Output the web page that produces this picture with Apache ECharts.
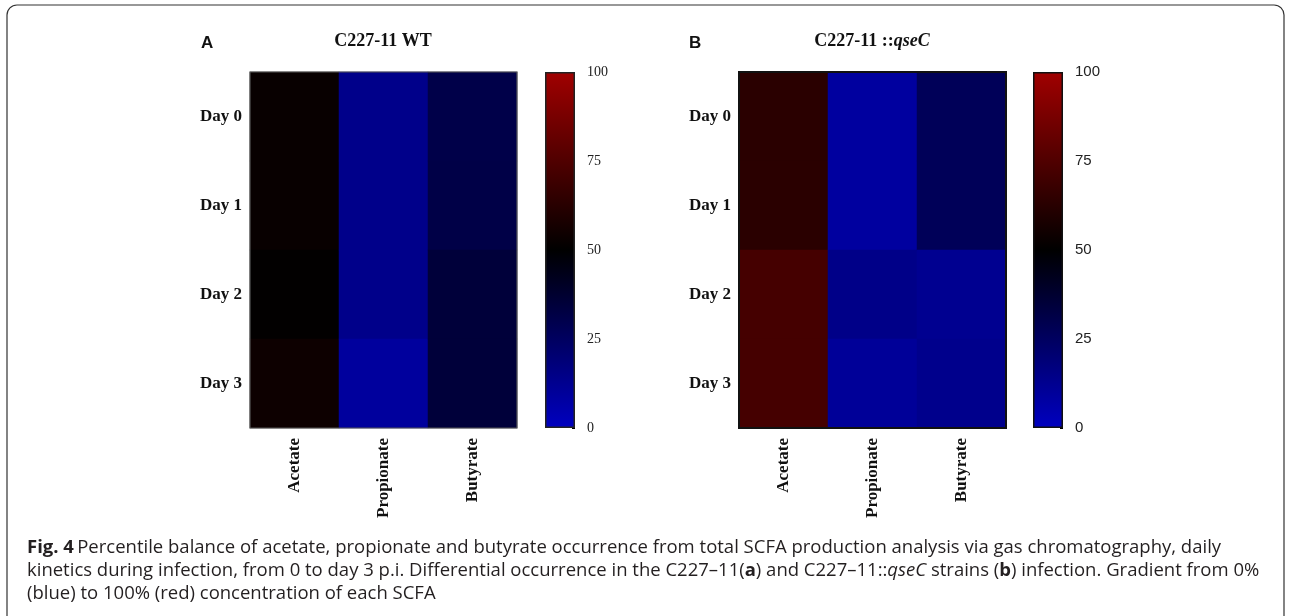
<!DOCTYPE html>
<html><head><meta charset="utf-8">
<script src="https://cdn.jsdelivr.net/npm/echarts@6/dist/echarts.min.js"></script>
<style>html,body{margin:0;padding:0;background:#fff}#c{width:1290px;height:616px}</style>
</head><body><div id="c"></div>
<script>
const days = ['Day 0', 'Day 1', 'Day 2', 'Day 3'];
const acids = ['Acetate', 'Propionate', 'Butyrate'];
const colorbarTicks = [0, 25, 50, 75, 100];
// values (percentile, 0-100) per acid, indexed by day
const wtAcetate = [52.5, 52.5, 50.5, 54];
const wtPropionate = [14, 14, 14, 9];
const wtButyrate = [31, 31.5, 35, 35];
const qsAcetate = [63, 63, 71.5, 71.5];
const qsPropionate = [8.5, 8.5, 14.5, 10.5];
const qsButyrate = [27, 27, 12.5, 13.5];

function cells(cols) {
  const out = [];
  cols.forEach((col, x) => col.forEach((v, y) => out.push([x, y, v])));
  return out;
}
const wtData = cells([wtAcetate, wtPropionate, wtButyrate]);
const qsData = cells([qsAcetate, qsPropionate, qsButyrate]);

const cmap = ['#0000c0', '#000000', '#a00000'];
const serif = '"Liberation Serif", "DejaVu Serif", serif';
const sans = '"Liberation Sans", Arial, sans-serif';

const chart = echarts.init(document.getElementById('c'), null, {renderer: 'canvas'});

function heatGrid(left) { return {left: left, top: 72, width: 267, height: 356, show: false}; }
function barGrid(left) { return {left: left, top: 72, width: 30, height: 356, show: false}; }

const grad = new echarts.graphic.LinearGradient(0, 0, 0, 1, [
  {offset: 0, color: cmap[2]}, {offset: 0.5, color: cmap[1]}, {offset: 1, color: cmap[0]}
]);

function heatX(gi) {
  return {type: 'category', gridIndex: gi, data: acids, position: 'bottom',
    axisLine: {show: false}, axisTick: {show: false}, splitLine: {show: false},
    axisLabel: {rotate: 90, margin: 10, fontFamily: serif, fontWeight: 'bold', fontSize: 17, color: '#111'}};
}
function heatY(gi) {
  return {type: 'category', gridIndex: gi, data: days, inverse: true,
    axisLine: {show: false}, axisTick: {show: false}, splitLine: {show: false},
    axisLabel: {margin: 8, fontFamily: serif, fontWeight: 'bold', fontSize: 17, color: '#111'}};
}
function barX(gi) {
  return {type: 'category', gridIndex: gi, data: ['c'], show: false};
}
function barY(gi, font, size) {
  return {type: 'value', gridIndex: gi, min: 0, max: 100, interval: 25, position: 'right',
    axisLine: {show: false}, splitLine: {show: false},
    axisTick: {show: true, inside: true, length: 3, lineStyle: {color: '#000', width: 1}},
    axisLabel: {margin: 12, fontFamily: font, fontSize: size, color: '#222',
      formatter: v => colorbarTicks.includes(v) ? String(v) : ''}};
}

const capFont = '"Open Sans", sans-serif';
const capSize = 18.5;
const capLH = 23;

const option = {
  animation: false,
  backgroundColor: '#fff',
  grid: [heatGrid(250), barGrid(545), heatGrid(739), barGrid(1033)],
  xAxis: [heatX(0), barX(1), heatX(2), barX(3)],
  yAxis: [heatY(0), barY(1, serif, 14), heatY(2), barY(3, sans, 15)],
  visualMap: [{type: 'continuous', min: 0, max: 100, show: false, seriesIndex: [0, 2],
    inRange: {color: cmap}}],
  series: [
    {type: 'heatmap', xAxisIndex: 0, yAxisIndex: 0, data: wtData, itemStyle: {borderWidth: 0}},
    {type: 'bar', xAxisIndex: 1, yAxisIndex: 1, data: [100], barWidth: '100%',
      itemStyle: {color: grad, borderColor: '#222', borderWidth: 1.5}, silent: true},
    {type: 'heatmap', xAxisIndex: 2, yAxisIndex: 2, data: qsData, itemStyle: {borderWidth: 0}},
    {type: 'bar', xAxisIndex: 3, yAxisIndex: 3, data: [100], barWidth: '100%',
      itemStyle: {color: grad, borderColor: '#111', borderWidth: 1.5}, silent: true}
  ],
  graphic: [
    {type: 'rect', shape: {x: 7, y: 5, width: 1277, height: 700, r: 10}, silent: true,
      style: {fill: 'none', stroke: '#333', lineWidth: 1.2}},
    {type: 'rect', shape: {x: 250, y: 72, width: 267, height: 356}, silent: true, z: 10,
      style: {fill: 'none', stroke: '#555', lineWidth: 1.2}},
    {type: 'rect', shape: {x: 739, y: 72, width: 267, height: 356}, silent: true, z: 10,
      style: {fill: 'none', stroke: '#111', lineWidth: 2}},
    {type: 'text', left: 201, top: 35, style: {text: 'A', font: 'bold 17px ' + sans, fill: '#111'}},
    {type: 'text', left: 689, top: 35, style: {text: 'B', font: 'bold 17px ' + sans, fill: '#111'}},
    {type: 'text', x: 383, y: 41, style: {text: 'C227-11 WT', font: 'bold 18px ' + serif, fill: '#111',
      textAlign: 'center', textVerticalAlign: 'middle'}},
    {type: 'text', x: 872, y: 41, style: {
      text: '{n|C227-11 ::}{i|qseC}', textAlign: 'center', textVerticalAlign: 'middle',
      rich: {n: {font: 'bold 18px ' + serif, fill: '#111'}, i: {font: 'italic bold 18px ' + serif, fill: '#111'}}}},
    {type: 'text', left: 27, top: 538, style: {
      text: '{b|Fig. 4} {r|Percentile balance of acetate, propionate and butyrate occurrence from total SCFA production analysis via gas chromatography, daily}\n' +
            '{r|kinetics during infection, from 0 to day 3 p.i. Differential occurrence in the C227\u201311(}{b|a}{r|) and C227\u201311::}{i|qseC}{r| strains (}{b|b}{r|) infection. Gradient from 0%}\n' +
            '{r|(blue) to 100% (red) concentration of each SCFA}',
      rich: {
        r: {fontFamily: capFont, fontSize: capSize, lineHeight: capLH, fill: '#231f20'},
        b: {fontFamily: capFont, fontWeight: 'bold', fontSize: capSize, lineHeight: capLH, fill: '#231f20'},
        i: {fontFamily: capFont, fontStyle: 'italic', fontSize: capSize, lineHeight: capLH, fill: '#231f20'}
      }}}
  ]
};
chart.setOption(option);
</script></body></html>
